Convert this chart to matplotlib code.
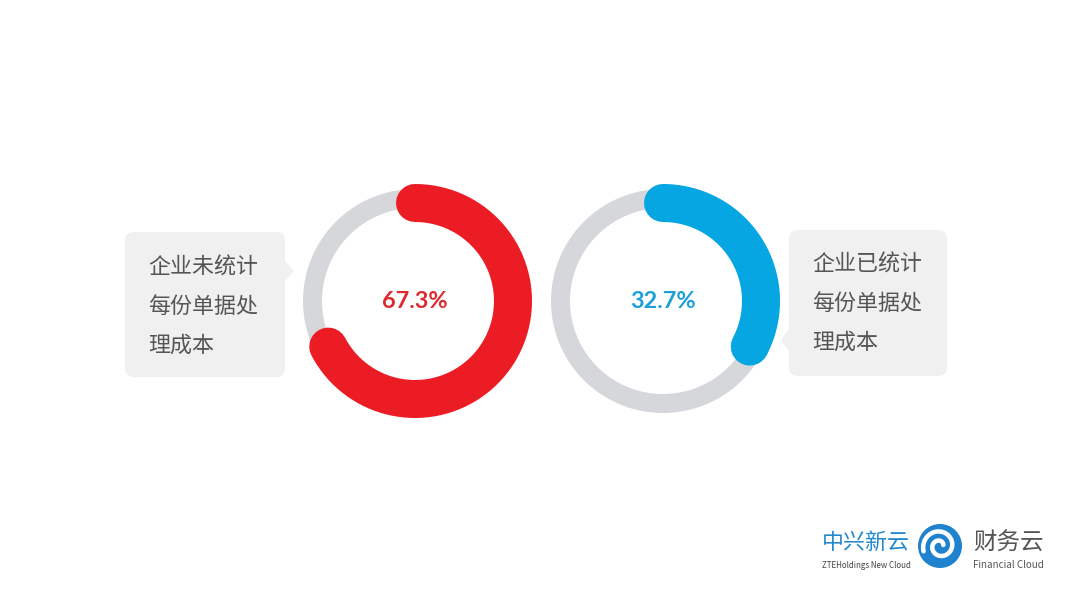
import numpy as np
import matplotlib.pyplot as plt
from matplotlib.patches import FancyBboxPatch, Polygon, Circle

plt.rcParams['font.family'] = ['Noto Sans CJK SC', 'DejaVu Sans']

# data
shares = [67.3, 32.7]
share_labels = ['67.3%', '32.7%']
captions = [['企业未统计', '每份单据处', '理成本'],
            ['企业已统计', '每份单据处', '理成本']]
arc_colors = ['#EC1C24', '#05A6E1']
text_colors = ['#DC2A30', '#1E9FD9']
ring_gray = '#D6D7DB'

PX = 0.72  # points per pixel at dpi 100

fig = plt.figure(figsize=(10.8, 6.07), dpi=100)
fig.patch.set_facecolor('white')
ax = fig.add_axes([0, 0, 1, 1])
ax.set_xlim(0, 1080)
ax.set_ylim(607, 0)
ax.axis('off')

centers = [(415, 301), (663, 301)]


def arc(cx, cy, r, start, stop, **kw):
    t = np.radians(np.linspace(start, stop, 400))
    ax.plot(cx + r * np.cos(t), cy - r * np.sin(t), **kw)


for (cx, cy), pct, lab, ac, tc in zip(centers, shares, share_labels,
                                       arc_colors, text_colors):
    # background ring
    arc(cx, cy, 102.5, 0, 360, color=ring_gray, lw=19 * PX,
        solid_capstyle='butt', zorder=2)
    # value arc, clockwise from top
    arc(cx, cy, 98, 90, 90 - 3.6 * pct, color=ac, lw=38 * PX,
        solid_capstyle='round', zorder=3)
    ax.text(cx, cy + 1, lab, ha='center', va='center', color=tc,
            fontsize=23.5 * PX, fontweight='bold', family=['Lato', 'DejaVu Sans'],
            zorder=4)

# callout boxes
box_col = '#F0F0F0'
boxes = [(125, 232, 160, 145), (789, 230, 158, 146)]
pointers = [[(284, 260), (294, 271), (284, 282)],
            [(790, 328), (781, 340), (790, 352)]]
text_x = [148, 812]
text_y0 = [268, 265]
for (bx, by, bw, bh), ptr, tx, ty, lines in zip(boxes, pointers, text_x,
                                               text_y0, captions):
    ax.add_patch(FancyBboxPatch((bx, by), bw, bh,
                                boxstyle='round,pad=0,rounding_size=9',
                                fc=box_col, ec='none', zorder=1))
    ax.add_patch(Polygon(ptr, closed=True, fc=box_col, ec='none', zorder=1))
    for i, s in enumerate(lines):
        ax.text(tx, ty + 39 * i, s, ha='left', va='center', color='#555555',
                fontsize=22 * PX, zorder=4)

# logo
logo_blue = '#2389CC'
ax.text(822, 543, '中兴新云', ha='left', va='center', color=logo_blue,
        fontsize=22 * PX, fontweight='medium')
ax.text(822, 565, 'ZTEHoldings New Cloud', ha='left', va='center',
        color='#444444', fontsize=8.0 * PX)
ax.add_patch(Circle((940, 546), 22, fc='#1F82CF', ec='none', zorder=3))
t = np.linspace(0.3, 3.1 * np.pi, 200)
rr = 3 + 4.6 * t / np.pi
ax.plot(940 + rr * np.cos(t), 546 - rr * np.sin(t), color='white',
        lw=4.5 * PX, zorder=4, solid_capstyle='round')
ax.text(973, 543, '财务云', ha='left', va='center', color='#555555',
        fontsize=23.5 * PX)
ax.text(973, 565, 'Financial Cloud', ha='left', va='center',
        color='#555555', fontsize=9.8 * PX)

fig.savefig('out.png', dpi=100, facecolor='white')
